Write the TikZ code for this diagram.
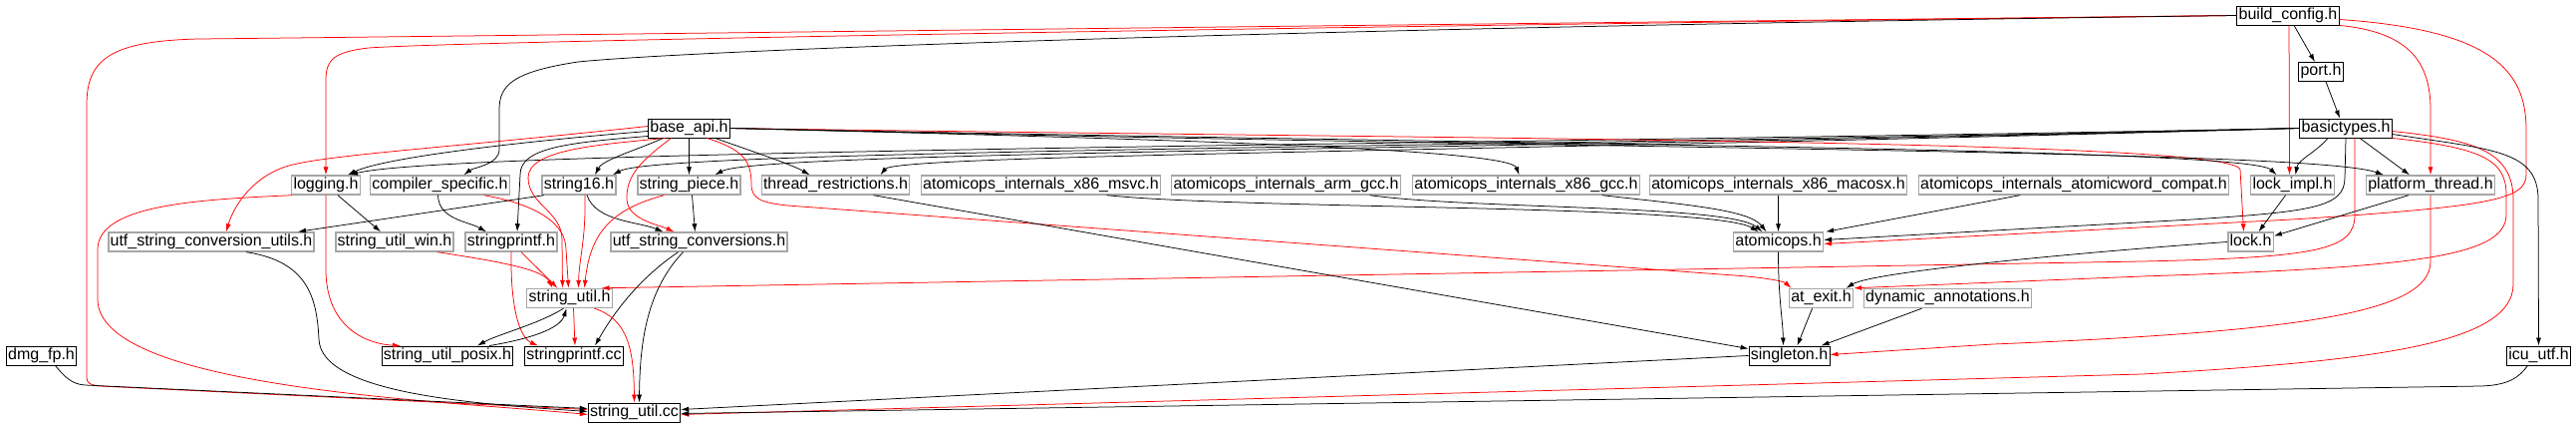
\documentclass[tikz,border=0pt]{standalone}
\usepackage{fontspec}
\setmainfont{Liberation Sans}
\usetikzlibrary{arrows.meta}
\tikzset{
  fileB/.style={rectangle, draw=black, fill=white, line width=0.9pt,
                inner xsep=1.8pt, inner ysep=1.5pt,
                text height=12pt, text depth=4pt,
                font=\fontsize{16}{17}\selectfont},
  fileG/.style={fileB, draw=black!35, line width=1.4pt},
  edgeK/.style={draw=black, line width=0.75pt,
                -{Latex[length=8pt,width=5pt]}},
  edgeR/.style={edgeK, draw=red},
}
\begin{document}
\begin{tikzpicture}[x=1pt, y=-1pt]
    \useasboundingbox (0,0) rectangle (2585,427);
    %% Files, row by row
    \node[fileB] (bcfg)   at (2296,15.5)  {build\_config.h};
    \node[fileB] (port)   at (2329,72)    {port.h};
    \node[fileB] (btypes) at (2354,128.5) {basictypes.h};
    \node[fileB] (bapi)   at (691.5,128.5) {base\_api.h};
    %% included headers
    \node[fileG] (logging) at (327,185.5)    {logging.h};
    \node[fileG] (cspec)   at (441.5,185.5)  {compiler\_specific.h};
    \node[fileG] (s16)     at (581,185.5)    {string16.h};
    \node[fileG] (spiece)  at (691.5,185.5)  {string\_piece.h};
    \node[fileG] (trestr)  at (838.5,185.5)  {thread\_restrictions.h};
    \node[fileG] (amsvc)   at (1044.5,185.5) {atomicops\_internals\_x86\_msvc.h};
    \node[fileG] (aarm)    at (1290.5,185.5) {atomicops\_internals\_arm\_gcc.h};
    \node[fileG] (agcc)    at (1531.5,185.5) {atomicops\_internals\_x86\_gcc.h};
    \node[fileG] (amac)    at (1784.5,185.5) {atomicops\_internals\_x86\_macosx.h};
    \node[fileG] (acompat) at (2081,185.5)   {atomicops\_internals\_atomicword\_compat.h};
    \node[fileG] (limpl)   at (2300.5,185.5) {lock\_impl.h};
    \node[fileG] (pthread) at (2439,185.5)   {platform\_thread.h};
    %%
    \node[fileG] (ucutils)  at (212,242.5)    {utf\_string\_conversion\_utils.h};
    \node[fileG] (suwin)    at (396,242.5)    {string\_util\_win.h};
    \node[fileG] (sprintfh) at (513,242.5)    {stringprintf.h};
    \node[fileG] (ucvt)     at (701.5,242.5)  {utf\_string\_conversions.h};
    \node[fileG] (atomic)   at (1784.5,242.5) {atomicops.h};
    \node[fileG] (lock)     at (2258.5,242.5) {lock.h};
    %%
    \node[fileG] (sutilh) at (571.5,299)  {string\_util.h};
    \node[fileG] (atexit) at (1827.5,299) {at\_exit.h};
    \node[fileG] (dynann) at (1954.5,299) {dynamic\_annotations.h};
    %%
    \node[fileB] (dmgfp)     at (41.5,356.5)   {dmg\_fp.h};
    \node[fileB] (suposix)   at (449,356.5)    {string\_util\_posix.h};
    \node[fileB] (sprintfcc) at (576,356.5)    {stringprintf.cc};
    \node[fileB] (singleton) at (1795.5,356.5) {singleton.h};
    \node[fileB] (icuutf)    at (2547.5,356.5) {icu\_utf.h};
    \node[fileB] (sutilcc)   at (636.5,413.5)  {string\_util.cc};

    %% from build_config.h
    \draw[edgeK] ([xshift=6pt]bcfg.south) -- ([xshift=-6pt]port.north);
    \draw[edgeK] ([xshift=5pt]port.south) -- ([xshift=-6pt]btypes.north);
    \draw[edgeR] (bcfg.west) .. controls (1200,27) and (400,37) .. (200,39)
        .. controls (110,41) and (87,60) .. (87,105) -- (87,378)
        .. controls (87,385) and (92,386) .. (100,387) -- ([yshift=3pt]sutilcc.west);
    \draw[edgeR] (bcfg.west) .. controls (1200,28) and (450,42) .. (370,48)
        .. controls (335,52) and (327,60) .. (327,80) -- (logging.north);
    \draw[edgeK] (bcfg.west) .. controls (1300,28) and (700,50) .. (580,62)
        .. controls (515,72) and (501,85) .. (501,110) -- (501,150)
        .. controls (501,165) and (475,168) .. ([xshift=24pt]cspec.north);
    \draw[edgeR] ([xshift=1pt]bcfg.south) -- ([xshift=-3pt]limpl.north);
    \draw[edgeR] (bcfg.south east) .. controls (2415,32) and (2439,60) .. (2439,110)
        -- (pthread.north);
    \draw[edgeR] ([yshift=-4pt]bcfg.east) .. controls (2500,30) and (2535,70) .. (2535,130)
        -- (2535,175) .. controls (2535,200) and (2500,207) .. (2300,220)
        -- ([yshift=-2pt]atomic.east);

    %% from basictypes.h
    \draw[edgeK] ([xshift=-18pt]btypes.south) .. controls (2325,152) and (2306,160) .. ([xshift=3pt]limpl.north);
    \draw[edgeK] ([xshift=14pt]btypes.south) -- ([xshift=-21pt]pthread.north);
    \draw[edgeK] (btypes.south) -- (2353,178) .. controls (2353,208) and (2320,212) .. (2200,220)
        -- ([yshift=2pt]atomic.east);
    \draw[edgeR] ([xshift=9pt]btypes.south) -- (2363,215) .. controls (2363,250) and (2330,258) .. (2150,262)
        -- ([xshift=32pt]sutilh.north);
    \draw[edgeR] (btypes.south east) .. controls (2490,148) and (2515,160) .. (2515,195) -- (2515,215)
        .. controls (2515,258) and (2420,268) .. (2150,277) -- (atexit.north east);
    \draw[edgeR] ([yshift=-3pt]btypes.east) .. controls (2480,140) and (2522,150) .. (2522,200) -- (2522,285)
        .. controls (2522,345) and (2380,362) .. (2150,375) -- ([yshift=-2pt]sutilcc.east);
    \draw[edgeK] ([yshift=-6pt]btypes.east) .. controls (2500,150) and (2547,150) .. (2547,200)
        -- (icuutf.north);
    \draw[edgeK] (btypes.west) .. controls (1500,145) and (450,150) .. ([xshift=24pt]logging.north);
    \draw[edgeK] (btypes.west) .. controls (1500,148) and (660,150) .. ([xshift=34pt]s16.north);
    \draw[edgeK] (btypes.west) .. controls (1500,150) and (760,152) .. ([xshift=26pt]spiece.north);
    \draw[edgeK] (btypes.west) .. controls (1500,152) and (900,155) .. ([xshift=45pt]trestr.north);

    %% from base_api.h
    \draw[edgeK] ([yshift=-3pt]bapi.west) .. controls (520,142) and (385,158) .. ([xshift=22pt]logging.north);
    \draw[edgeR] ([yshift=2pt]bapi.west) .. controls (450,148) and (330,155) .. (290,166)
        .. controls (255,176) and (235,205) .. ([xshift=15pt]ucutils.north);
    \draw[edgeK] ([yshift=-8pt]bapi.west) .. controls (570,143) and (522,148) .. (522,175)
        -- ([xshift=6pt]sprintfh.north);
    \draw[edgeR] ([xshift=-24pt]bapi.south) .. controls (600,145) and (530,150) .. (530,178)
        .. controls (530,205) and (564,212) .. (564,240) -- ([xshift=-7pt]sutilh.north);
    \draw[edgeR] ([xshift=-18pt]bapi.south) .. controls (645,160) and (628,175) .. (629,200)
        .. controls (630,220) and (660,225) .. ([xshift=-25pt]ucvt.north);
    \draw[edgeK] ([xshift=-26pt]bapi.south) .. controls (640,150) and (605,160) .. ([xshift=16pt]s16.north);
    \draw[edgeK] (bapi.south) -- (spiece.north);
    \draw[edgeK] ([xshift=26pt]bapi.south) .. controls (750,150) and (795,165) .. ([xshift=-26pt]trestr.north);
    \draw[edgeR] ([xshift=18pt]bapi.south) .. controls (745,150) and (754,160) .. (754,185)
        .. controls (754,200) and (765,203) .. (790,206) -- (1740,276)
        .. controls (1770,278) and (1790,282) .. ([xshift=-30pt]atexit.north);
    \draw[edgeR] (bapi.east) .. controls (1500,140) and (2240,140) .. (2248,170) -- ([xshift=-7pt]lock.north);
    \draw[edgeK] (bapi.east) .. controls (1500,145) and (2255,148) .. ([xshift=-16pt]limpl.north);
    \draw[edgeK] (bapi.east) .. controls (1600,150) and (2320,150) .. ([xshift=-47pt]pthread.north);
    \draw[edgeK] (bapi.east) .. controls (1200,140) and (1515,150) .. ([xshift=-7pt]agcc.north);

    %% string headers
    \draw[edgeK] ([xshift=12pt]logging.south) -- ([xshift=-14pt]suwin.north);
    \draw[edgeR] (logging.south) -- (327,270) .. controls (327,330) and (370,345) .. ([xshift=-47pt]suposix.north);
    \draw[edgeR] ([xshift=-34pt]logging.south) .. controls (200,200) and (98,205) .. (98,250) -- (98,300)
        .. controls (98,390) and (450,402) .. ([yshift=-2pt]sutilcc.west);
    \draw[edgeK] ([xshift=35pt]ucutils.south) .. controls (310,262) and (318,300) .. (320,340)
        .. controls (322,395) and (480,405) .. ([yshift=1pt]sutilcc.west);
    \draw[edgeK] ([xshift=-2pt]cspec.south) .. controls (440,220) and (470,222) .. ([xshift=-25pt]sprintfh.north);
    \draw[edgeR] ([xshift=44pt]cspec.south) .. controls (540,205) and (568,225) .. (568,250)
        -- ([xshift=-1pt]sutilh.north);
    \draw[edgeK] ([xshift=-35pt]s16.south) -- ([xshift=87pt]ucutils.north);
    \draw[edgeR] ([xshift=6pt]s16.south) .. controls (588,240) and (581,260) .. ([xshift=9pt]sutilh.north);
    \draw[edgeK] ([xshift=8pt]s16.south) .. controls (598,222) and (640,222) .. ([xshift=-36pt]ucvt.north);
    \draw[edgeK] ([xshift=3pt]spiece.south) -- ([xshift=-4pt]ucvt.north);
    \draw[edgeR] ([xshift=-25pt]spiece.south) .. controls (612,210) and (592,235) .. ([xshift=15pt]sutilh.north);
    \draw[edgeR] ([xshift=43pt]suwin.south) .. controls (500,262) and (545,270) .. ([xshift=-17pt]sutilh.north);
    \draw[edgeR] ([xshift=10pt]sprintfh.south) -- ([xshift=-12pt]sutilh.north);
    \draw[edgeR] (sprintfh.south) .. controls (512,320) and (525,340) .. ([xshift=-36pt]sprintfcc.north);
    \draw[edgeK] ([xshift=-21pt]ucvt.south) .. controls (640,280) and (615,315) .. ([xshift=21pt]sprintfcc.north);
    \draw[edgeK] ([xshift=-16pt]ucvt.south) .. controls (650,290) and (642,340) .. ([xshift=5pt]sutilcc.north);
    \draw[edgeK] ([xshift=-6pt]sutilh.south) .. controls (540,325) and (500,335) .. ([xshift=30pt]suposix.north);
    \draw[edgeK] ([xshift=42pt]suposix.north) .. controls (530,340) and (562,330) .. ([xshift=-3pt]sutilh.south);
    \draw[edgeR] ([xshift=4pt]sutilh.south) -- ([xshift=1pt]sprintfcc.north);
    \draw[edgeR] ([xshift=25pt]sutilh.south) .. controls (630,320) and (636,350) .. (sutilcc.north);
    \draw[edgeK] ([xshift=14pt]dmgfp.south) .. controls (65,378) and (72,385) .. (85,386)
        -- ([yshift=4pt]sutilcc.west);

    %% atomics, locks and singleton
    \draw[edgeK] ([xshift=66pt]amsvc.south) .. controls (1250,210) and (1720,205) .. ([xshift=-20pt]atomic.north);
    \draw[edgeK] ([xshift=84pt]aarm.south) .. controls (1480,210) and (1735,205) .. ([xshift=-16pt]atomic.north);
    \draw[edgeK] ([xshift=76pt]agcc.south) .. controls (1690,205) and (1755,210) .. ([xshift=-12pt]atomic.north);
    \draw[edgeK] (amac.south) -- (atomic.north);
    \draw[edgeK] ([xshift=-54pt]acompat.south) -- ([xshift=2pt]atomic.north east);
    \draw[edgeK] ([xshift=-7pt]limpl.south) -- ([xshift=8pt]lock.north);
    \draw[edgeK] ([xshift=-22pt]pthread.south) -- ([yshift=6pt]lock.east);
    \draw[edgeK] (lock.west) .. controls (2100,252) and (1880,272) .. ([xshift=25pt]atexit.north);
    \draw[edgeR] (pthread.south) -- (2439,262) .. controls (2439,312) and (2320,332) .. (2000,345)
        -- ([yshift=1pt]singleton.east);
    \draw[edgeK] (atomic.south) .. controls (1784.5,300) and (1789,320) .. ([xshift=-6pt]singleton.north);
    \draw[edgeK] ([xshift=-9pt]atexit.south) -- ([xshift=8pt]singleton.north);
    \draw[edgeK] ([xshift=-26pt]dynann.south) -- ([xshift=32pt]singleton.north);
    \draw[edgeK] ([xshift=38pt]trestr.south) -- ([yshift=7pt]singleton.west);
    \draw[edgeK] (singleton.west) -- ([yshift=3pt]sutilcc.east);
    \draw[edgeK] ([xshift=-11pt]icuutf.south) .. controls (2528,378) and (2518,386) .. (2490,387)
        -- ([yshift=-1pt]sutilcc.east);
  \end{tikzpicture}
\end{document}
